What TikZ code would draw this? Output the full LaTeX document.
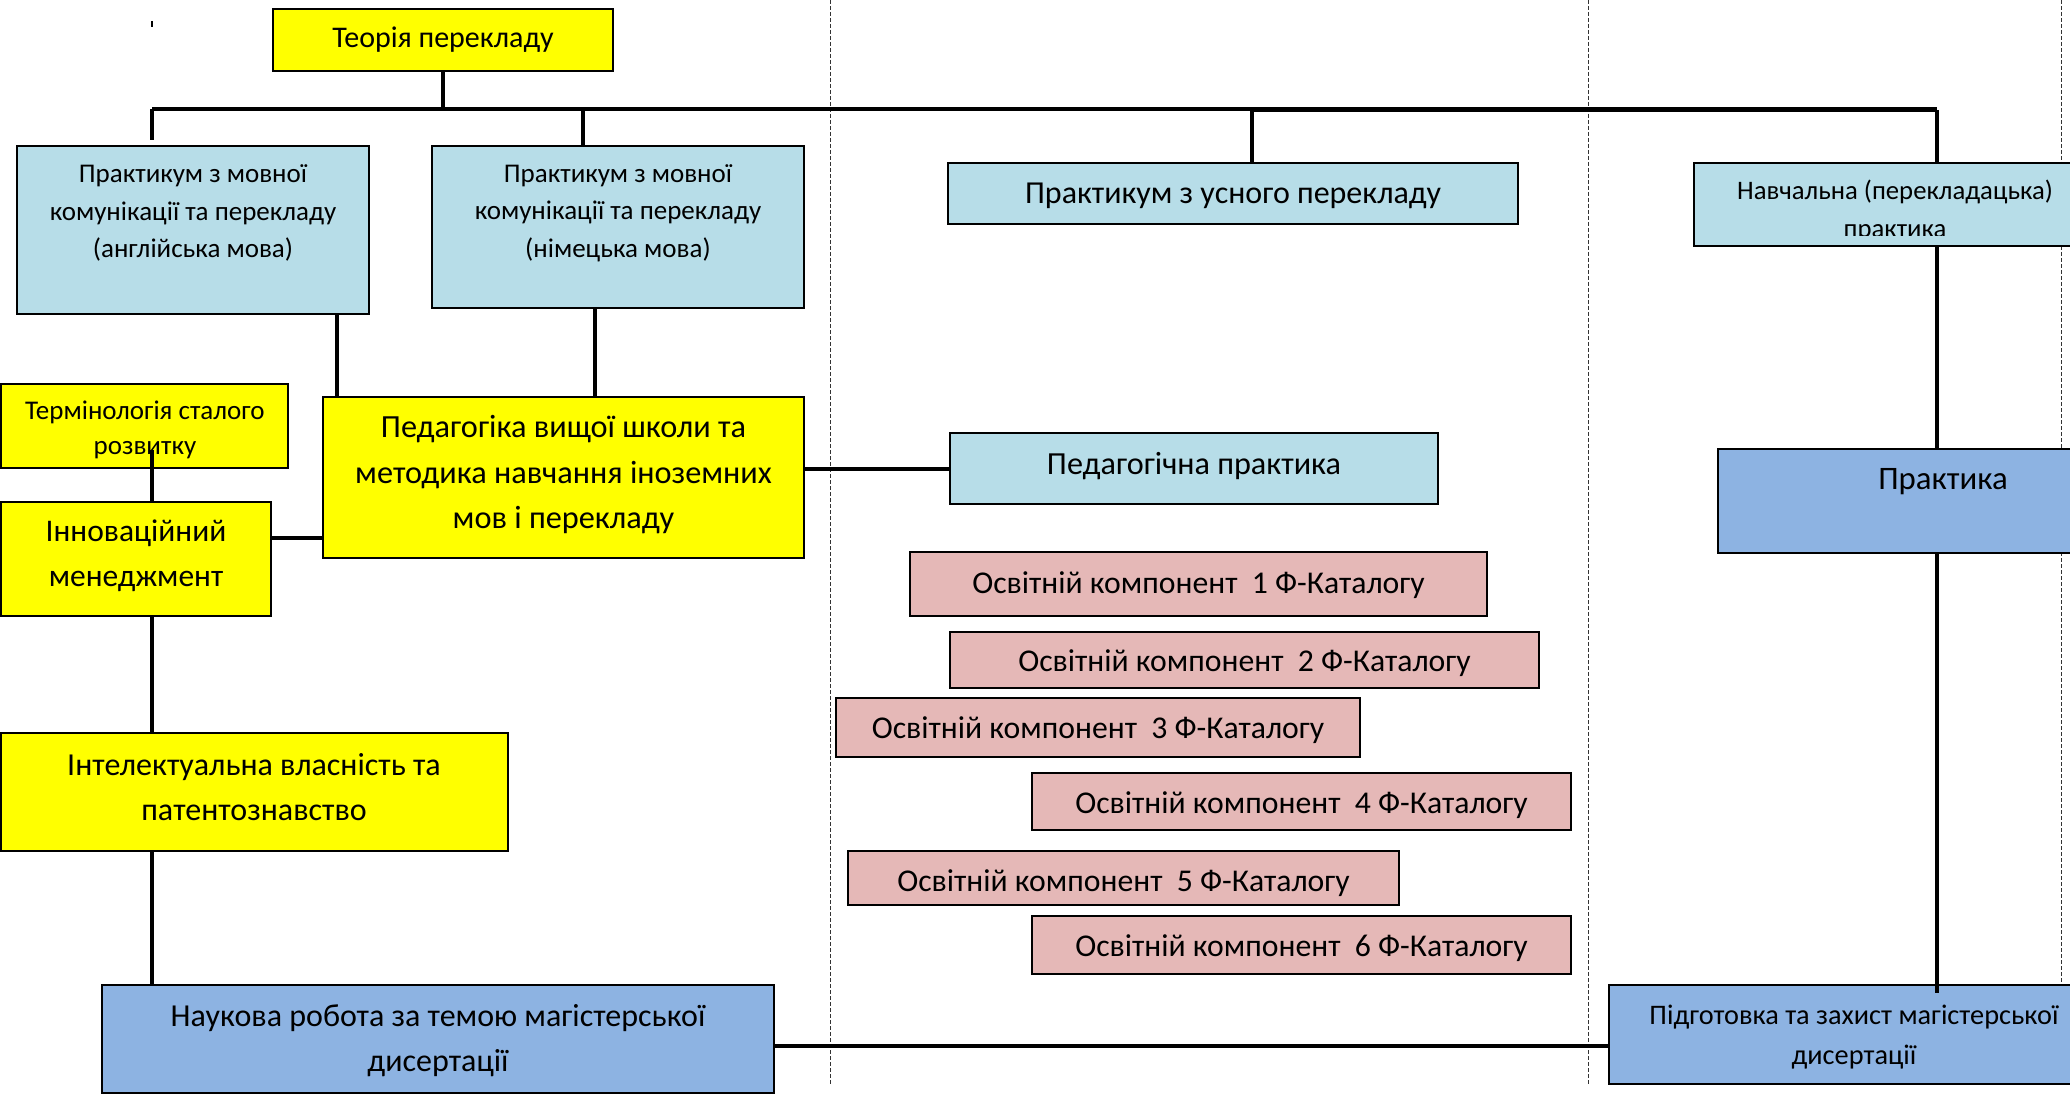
\documentclass[tikz,border=0pt]{standalone}
\usepackage{fontspec}
\setmainfont{Carlito}
\definecolor{cyel}{HTML}{FFFF00}
\definecolor{clblue}{HTML}{B7DDE8}
\definecolor{cblue}{HTML}{8DB3E2}
\definecolor{cpink}{HTML}{E5B8B7}
\newcommand\myfs[2]{\fontsize{#1}{#2}\selectfont}
\tikzset{
  box/.style={draw=black, line width=2.2pt, inner sep=0pt, anchor=center},
  yb/.style={box, fill=cyel},
  lb/.style={box, fill=clblue},
  bb/.style={box, fill=cblue},
  pb/.style={box, fill=cpink},
  txt/.style={inner sep=0pt, align=center, text=black},
  conn/.style={line width=3.6pt},
  thickconn/.style={line width=4pt},
  dsh/.style={line width=1pt, dash pattern=on 4pt off 2pt, black!80}
}
\begin{document}
\begin{tikzpicture}[x=1pt, y=-1pt]
\useasboundingbox (0,0) rectangle (2070,1094);
\clip (0,0) rectangle (2070,1094);
\fill[white] (0,0) rectangle (2070,1094);

% dashed separators
\coordinate (d1t) at (830,0);   \coordinate (d1b) at (830,1085);
\coordinate (d2t) at (1588,0);  \coordinate (d2b) at (1588,1085);
\coordinate (d3t) at (2061,0);  \coordinate (d3b) at (2061,985);
\draw[dsh] (d1t) -- (d1b);
\draw[dsh] (d2t) -- (d2b);
\draw[dsh] (d3t) -- (d3b);

% boxes
\node[yb, minimum width=340, minimum height=62]  (teoria) at (443,40) {};
\node[lb, minimum width=352, minimum height=168] (eng)    at (193,230) {};
\node[lb, minimum width=372, minimum height=162] (ger)    at (618,227) {};
\node[lb, minimum width=570, minimum height=61]  (usn)    at (1233,193.5) {};
\node[lb, minimum width=416, minimum height=83]  (navch)  at (1902,204.5) {};
\node[yb, minimum width=287, minimum height=84]  (term)   at (144.5,426) {};
\node[yb, minimum width=270, minimum height=114] (innov)  at (136,559) {};
\node[yb, minimum width=481, minimum height=161] (ped)    at (563.5,477.5) {};
\node[lb, minimum width=488, minimum height=71]  (pedpr)  at (1194,468.5) {};
\node[bb, minimum width=402, minimum height=104] (prakt)  at (1919,501) {};
\node[pb, minimum width=577, minimum height=64]  (ok1)    at (1198.5,584) {};
\node[pb, minimum width=589, minimum height=56]  (ok2)    at (1244.5,660) {};
\node[pb, minimum width=524, minimum height=59]  (ok3)    at (1098,727.5) {};
\node[pb, minimum width=539, minimum height=57]  (ok4)    at (1301.5,801.5) {};
\node[pb, minimum width=551, minimum height=54]  (ok5)    at (1123.5,878) {};
\node[pb, minimum width=539, minimum height=58]  (ok6)    at (1301.5,945) {};
\node[yb, minimum width=507, minimum height=118] (intel)  at (254.5,792) {};
\node[bb, minimum width=672, minimum height=108] (nauk)   at (438,1039) {};
\node[bb, minimum width=511, minimum height=99]  (pidg)   at (1864.5,1034.5) {};

% texts
\node[txt, font=\myfs{30}{34}] (tteoria) at (443,40) {Теорія перекладу};
\node[txt, font=\myfs{27}{37.5}] (teng) at (193,213) {Практикум з мовної\\комунікації та перекладу\\(англійська мова)};
\node[txt, font=\myfs{27}{37.5}] (tger) at (618,213) {Практикум з мовної\\комунікації та перекладу\\(німецька мова)};
\node[txt, font=\myfs{32}{34}] (tusn) at (1233,196) {Практикум з усного перекладу};
\begin{scope}
\clip (navch.north west) rectangle (2100,236);
\node[txt, font=\myfs{26.7}{38}] (tnavch) at (1895,211) {Навчальна (перекладацька)\\практика};
\end{scope}
\node[txt, font=\myfs{27}{35}] (tterm) at (145,429.5) {Термінологія сталого\\розвитку};
\node[txt, font=\myfs{31.5}{45}] (tinnov) at (136,555.5) {Інноваційний\\менеджмент};
\node[txt, font=\myfs{32.3}{45.5}] (tped) at (563.5,475) {Педагогіка вищої школи та\\методика навчання іноземних\\мов і перекладу};
\node[txt, font=\myfs{32.2}{34}] (tpedpr) at (1194,466) {Педагогічна практика};
\node[txt, font=\myfs{32.8}{34}] (tprakt) at (1943,482) {Практика};
\node[txt, font=\myfs{31.7}{34}] (tok1) at (1198.5,585) {Освітній компонент~~1 Ф-Каталогу};
\node[txt, font=\myfs{31.7}{34}] (tok2) at (1244.5,663) {Освітній компонент~~2 Ф-Каталогу};
\node[txt, font=\myfs{31.7}{34}] (tok3) at (1098,730) {Освітній компонент~~3 Ф-Каталогу};
\node[txt, font=\myfs{31.7}{34}] (tok4) at (1301.5,805) {Освітній компонент~~4 Ф-Каталогу};
\begin{scope}
\clip (ok5.north west) rectangle (ok5.south east);
\node[txt, font=\myfs{31.7}{34}] (tok5) at (1123.5,883) {Освітній компонент~~5 Ф-Каталогу};
\end{scope}
\node[txt, font=\myfs{31.7}{34}] (tok6) at (1301.5,948) {Освітній компонент~~6 Ф-Каталогу};
\node[txt, font=\myfs{32}{45}] (tintel) at (254,787.5) {Інтелектуальна власність та\\патентознавство};
\node[txt, font=\myfs{32}{45}] (tnauk) at (438,1040.5) {Наукова робота за темою магістерської\\дисертації};
\node[txt, font=\myfs{28.3}{40}] (tpidg) at (1854,1037) {Підготовка та захист магістерської\\дисертації};

% stray mark
\draw[line width=1.5pt] (152,21) -- (152,27);

% junctions
\coordinate (bL)   at (152,109);
\coordinate (bTeo) at (443,109);
\coordinate (bGer) at (583,109);
\coordinate (bUsn) at (1252,109);
\coordinate (bNav) at (1937,110);
\coordinate (engDrop) at (152,140);
\coordinate (xEngP) at (337,0);
\coordinate (xGerP) at (595,0);
\coordinate (xLeft) at (152,0);
\coordinate (xRight) at (1937,0);
\coordinate (termStart) at (152,450);
\coordinate (pidgIn) at (1937,993);

% connectors
\draw[conn] (teoria.south) -- (bTeo);
\draw[line width=4pt] (bL) -- (bUsn);
\draw[line width=5pt] (bUsn |- bNav) -- (bNav);
\draw[conn] (bL) -- (engDrop);
\draw[conn] (bGer) -- (bGer |- ger.north);
\draw[conn] (bUsn) -- (bUsn |- usn.north);
\draw[conn] (bNav) -- (bNav |- navch.north);
\draw[conn] (eng.south -| xEngP) -- (ped.north -| xEngP);
\draw[conn] (ger.south -| xGerP) -- (ped.north -| xGerP);
\draw[thickconn] (ped.east |- pedpr.west) -- (pedpr.west);
\draw[thickconn] (innov.east |- 0,538) -- (ped.west |- 0,538);
\draw[conn] (termStart) -- (innov.north -| xLeft);
\draw[conn] (innov.south -| xLeft) -- (intel.north -| xLeft);
\draw[conn] (intel.south -| xLeft) -- (nauk.north -| xLeft);
\draw[thickconn] (nauk.east |- 0,1046) -- (pidg.west |- 0,1046);
\draw[conn] (navch.south -| xRight) -- (prakt.north -| xRight);
\draw[conn] (prakt.south -| xRight) -- (pidgIn);
\end{tikzpicture}
\end{document}
